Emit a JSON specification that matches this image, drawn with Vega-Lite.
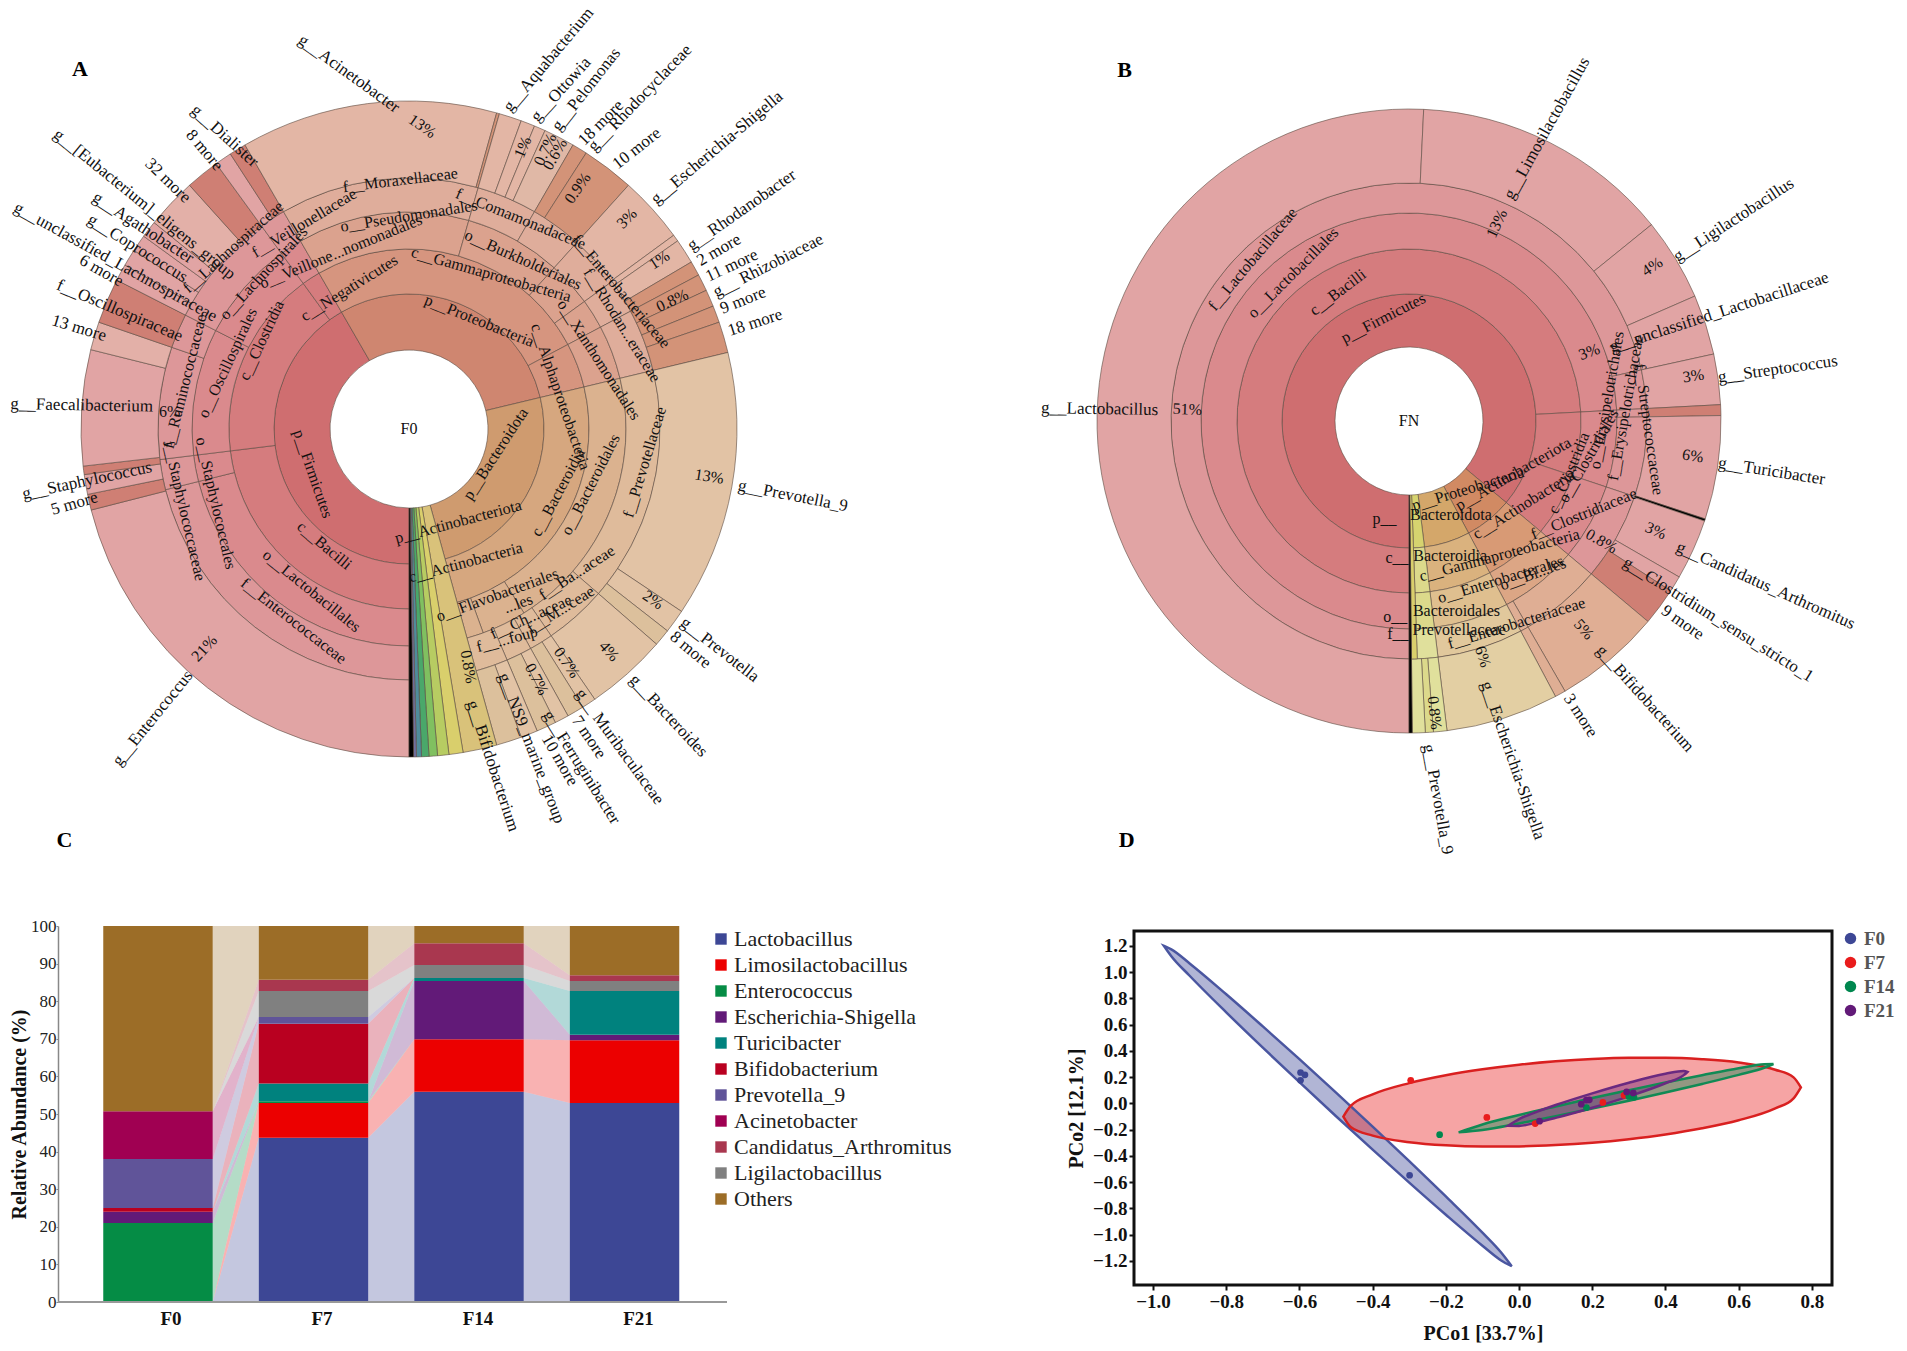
{"$schema":"https://vega.github.io/schema/vega-lite/v6.json","padding":0,"background":"white","bounds":"flush","spacing":1134,"resolve":{"scale":{"color":"independent","stroke":"independent"},"legend":{"color":"independent"}},"config":{"view":{"stroke":null},"font":"Liberation Serif","text":{"font":"Liberation Serif"},"axis":{"labelFont":"Liberation Serif","titleFont":"Liberation Serif","grid":false},"legend":{"labelFont":"Liberation Serif"}},
"datasets":{
"arcsA":[
{"t0":180,"t1":330,"r0":79,"r1":135,"k":"f0"},
{"t0":180,"t1":263,"r0":135,"r1":180,"k":"f1"},{"t0":263,"t1":324,"r0":135,"r1":180,"k":"f1"},{"t0":324,"t1":330,"r0":135,"r1":180,"k":"f1"},
{"t0":180,"t1":256,"r0":180,"r1":217,"k":"f2"},{"t0":256,"t1":263,"r0":180,"r1":217,"k":"f2"},{"t0":263,"t1":297,"r0":180,"r1":217,"k":"f2"},{"t0":297,"t1":324,"r0":180,"r1":217,"k":"f2"},{"t0":324,"t1":330,"r0":180,"r1":217,"k":"f2"},
{"t0":180,"t1":256,"r0":217,"r1":251,"k":"f3"},{"t0":256,"t1":263,"r0":217,"r1":251,"k":"f3"},{"t0":263,"t1":289,"r0":217,"r1":251,"k":"f3"},{"t0":289,"t1":297,"r0":217,"r1":251,"k":"f3"},{"t0":297,"t1":324,"r0":217,"r1":251,"k":"f3"},{"t0":324,"t1":330,"r0":217,"r1":251,"k":"f3"},
{"t0":180,"t1":255.7,"r0":251,"r1":328,"k":"f4"},{"t0":255.7,"t1":258.5,"r0":251,"r1":328,"k":"fd"},{"t0":258.5,"t1":262,"r0":251,"r1":328,"k":"f4"},{"t0":262,"t1":263.5,"r0":251,"r1":328,"k":"fd"},{"t0":263.5,"t1":284,"r0":251,"r1":328,"k":"f4"},{"t0":284,"t1":289,"r0":251,"r1":328,"k":"fh"},{"t0":289,"t1":297,"r0":251,"r1":328,"k":"fd"},{"t0":297,"t1":300,"r0":251,"r1":328,"k":"f4"},{"t0":300,"t1":303,"r0":251,"r1":328,"k":"f4"},{"t0":303,"t1":306,"r0":251,"r1":328,"k":"f4"},{"t0":306,"t1":309,"r0":251,"r1":328,"k":"f4"},{"t0":309,"t1":318,"r0":251,"r1":328,"k":"fh"},{"t0":318,"t1":324,"r0":251,"r1":328,"k":"fd"},{"t0":324,"t1":327,"r0":251,"r1":328,"k":"f4"},{"t0":327,"t1":330,"r0":251,"r1":328,"k":"fd"},
{"t0":330,"t1":436.5,"r0":79,"r1":135,"k":"p0"},
{"t0":330,"t1":422,"r0":135,"r1":180,"k":"p1"},{"t0":422,"t1":436.5,"r0":135,"r1":180,"k":"p1"},
{"t0":330,"t1":376,"r0":180,"r1":217,"k":"p2"},{"t0":376,"t1":402,"r0":180,"r1":217,"k":"p2"},{"t0":402,"t1":414,"r0":180,"r1":217,"k":"p2"},{"t0":414,"t1":422,"r0":180,"r1":217,"k":"p2"},{"t0":422,"t1":436.5,"r0":180,"r1":217,"k":"p2"},
{"t0":330,"t1":376,"r0":217,"r1":251,"k":"p3"},{"t0":376,"t1":390,"r0":217,"r1":251,"k":"p3"},{"t0":390,"t1":402,"r0":217,"r1":251,"k":"p3"},{"t0":402,"t1":414,"r0":217,"r1":251,"k":"p3"},{"t0":414,"t1":422,"r0":217,"r1":251,"k":"p3"},{"t0":422,"t1":436.5,"r0":217,"r1":251,"k":"p3"},
{"t0":330,"t1":375.5,"r0":251,"r1":328,"k":"p4"},{"t0":375.5,"t1":376,"r0":251,"r1":328,"k":"pd"},{"t0":376,"t1":380,"r0":251,"r1":328,"k":"p4"},{"t0":380,"t1":382.5,"r0":251,"r1":328,"k":"p4"},{"t0":382.5,"t1":384.5,"r0":251,"r1":328,"k":"p4"},{"t0":384.5,"t1":390,"r0":251,"r1":328,"k":"ph"},{"t0":390,"t1":392.7,"r0":251,"r1":328,"k":"pd"},{"t0":392.7,"t1":402,"r0":251,"r1":328,"k":"pd"},{"t0":402,"t1":413.8,"r0":251,"r1":328,"k":"p4"},{"t0":413.8,"t1":415,"r0":251,"r1":328,"k":"p4"},{"t0":415,"t1":419.4,"r0":251,"r1":328,"k":"p4"},{"t0":419.4,"t1":422,"r0":251,"r1":328,"k":"pd"},{"t0":422,"t1":425,"r0":251,"r1":328,"k":"pd"},{"t0":425,"t1":428,"r0":251,"r1":328,"k":"pd"},{"t0":428,"t1":431,"r0":251,"r1":328,"k":"pd"},{"t0":431,"t1":436.5,"r0":251,"r1":328,"k":"pd"},
{"t0":76.5,"t1":164.5,"r0":79,"r1":135,"k":"b0"},{"t0":76.5,"t1":164.5,"r0":135,"r1":180,"k":"b1"},
{"t0":76.5,"t1":148,"r0":180,"r1":217,"k":"b2"},{"t0":148,"t1":160,"r0":180,"r1":217,"k":"b2"},{"t0":160,"t1":164.5,"r0":180,"r1":217,"k":"b2"},
{"t0":76.5,"t1":131,"r0":217,"r1":251,"k":"b3"},{"t0":131,"t1":145.5,"r0":217,"r1":251,"k":"b3"},{"t0":145.5,"t1":151,"r0":217,"r1":251,"k":"b3"},{"t0":151,"t1":157,"r0":217,"r1":251,"k":"b3"},{"t0":157,"t1":164.5,"r0":217,"r1":251,"k":"b3"},
{"t0":76.5,"t1":123.8,"r0":251,"r1":328,"k":"b4"},{"t0":123.8,"t1":128,"r0":251,"r1":328,"k":"b4"},{"t0":128,"t1":131,"r0":251,"r1":328,"k":"bh"},{"t0":131,"t1":145.5,"r0":251,"r1":328,"k":"b4"},{"t0":145.5,"t1":148,"r0":251,"r1":328,"k":"b4"},{"t0":148,"t1":151,"r0":251,"r1":328,"k":"bh"},{"t0":151,"t1":153.5,"r0":251,"r1":328,"k":"b4"},{"t0":153.5,"t1":157,"r0":251,"r1":328,"k":"bh"},{"t0":157,"t1":160,"r0":251,"r1":328,"k":"b4"},{"t0":160,"t1":164.5,"r0":251,"r1":328,"k":"bh"},
{"t0":164.5,"t1":170.5,"r0":79,"r1":328,"k":"y1"},{"t0":170.5,"t1":173,"r0":79,"r1":328,"k":"y2"},{"t0":173,"t1":175,"r0":79,"r1":328,"k":"y3"},{"t0":175,"t1":176.5,"r0":79,"r1":328,"k":"y4"},{"t0":176.5,"t1":177.8,"r0":79,"r1":328,"k":"y5"},{"t0":177.8,"t1":178.7,"r0":79,"r1":328,"k":"y6"},{"t0":178.7,"t1":179.2,"r0":79,"r1":328,"k":"y7"},{"t0":179.2,"t1":180,"r0":79,"r1":328,"k":"kk"}
],
"rightA":[
{"s":"g__Aquabacterium","t":17,"r":334,"a":-50},{"s":"g__Ottowia","t":22,"r":334,"a":-48},{"s":"g__Pelomonas","t":26,"r":334,"a":-52},{"s":"18 more","t":31,"r":334,"a":-45},{"s":"g__ Rhodocyclaceae","t":33,"r":334,"a":-46},{"s":"10 more","t":38,"r":334,"a":-38},{"s":"g__Escherichia-Shigella","t":47,"r":334,"a":-40},{"s":"g__Rhodanobacter","t":57,"r":334,"a":-35},{"s":"2 more","t":60,"r":334,"a":-30},{"s":"11 more","t":63,"r":334,"a":-25},{"s":"g__ Rhizobiaceae","t":66,"r":334,"a":-27},{"s":"9 more","t":69,"r":334,"a":-22},{"s":"18 more","t":73,"r":334,"a":-18},{"s":"g__Prevotella_9","t":99.7,"r":334,"a":11},{"s":"g__Prevotella","t":125,"r":334,"a":38},{"s":"8 more","t":128,"r":334,"a":40},{"s":"g__Bacteroides","t":138,"r":334,"a":47},{"s":"g__ Muribaculaceae","t":147,"r":312,"a":54},{"s":"7 more","t":150,"r":333,"a":56},{"s":"g__Ferruginibacter","t":154,"r":315,"a":58},{"s":"10 more","t":156,"r":336,"a":60},{"s":"g__NS9_marine_group","t":159,"r":262,"a":69},{"s":"g__Bifidobacterium","t":167,"r":279,"a":72}],
"leftA":[
{"s":"g__Acinetobacter","t":358,"r":320,"a":36},{"s":"g__Dialister","t":330,"r":306,"a":42},{"s":"8 more","t":324,"r":322,"a":50},{"s":"32 more","t":316,"r":318,"a":44},{"s":"g__[Eubacterium]_eligens_group","t":311,"r":233,"a":39},{"s":"g__Agathobacter","t":308,"r":275,"a":33},{"s":"g__Coprococcus","t":304,"r":269,"a":32},{"s":"g__unclassified_Lachnospiraceae","t":300,"r":223,"a":29},{"s":"6 more","t":297,"r":322,"a":30},{"s":"f__Oscillospiraceae","t":292,"r":245,"a":23},{"s":"13 more","t":287,"r":317,"a":17},{"s":"g__Faecalibacterium","t":275,"r":257,"a":1},{"s":"g__Staphylococcus","t":261.6,"r":260,"a":-12},{"s":"5 more","t":257.7,"r":319,"a":-16},{"s":"g__Enterococcus","t":222,"r":328,"a":-51}],
"midA":[
{"s":"F0","t":0,"r":0,"a":0},{"s":"p__Proteobacteria","t":33,"r":129,"a":22},{"s":"c__Gammaproteobacteria","t":28,"r":175,"a":16},{"s":"o__Burkholderiales","t":34,"r":204,"a":24},{"s":"f__Comamonadaceae","t":28,"r":238,"a":22},{"s":"f__Moraxellaceae","t":358,"r":249,"a":-7},{"s":"o__Pseudomonadales","t":0,"r":213,"a":-9},{"s":"c__Negativicutes","t":337,"r":153,"a":-32},{"s":"o__Veillone...nomonadales","t":339,"r":190,"a":-22},{"s":"f__Veillonellaceae","t":333,"r":231,"a":-31},{"s":"o__Lachnospirales","t":317,"r":213,"a":-47},{"s":"f__Lachnospiraceae","t":316,"r":253,"a":-42},{"s":"c__Clostridia","t":301,"r":172,"a":-65},{"s":"o__Oscillospirales","t":290,"r":193,"a":-65},{"s":"f__Ruminococcaceae","t":282,"r":229,"a":-76},{"s":"p__Firmicutes","t":245,"r":106,"a":71},{"s":"c__Bacilli","t":216,"r":144,"a":40},{"s":"o__Lactobacillales","t":211,"r":189,"a":39},{"s":"f__Enterococcaceae","t":211,"r":224,"a":38},{"s":"o__Staphylococcales","t":249,"r":207,"a":77},{"s":"f__Staphylococcaceae","t":250,"r":239,"a":77},{"s":"p__Bacteroidota","t":106,"r":90,"a":-57},{"s":"c__Bacteroidia","t":113,"r":162,"a":-62},{"s":"o__Bacteroidales","t":107,"r":190,"a":-63},{"s":"f__Prevotellaceae","t":98,"r":238,"a":-73},{"s":"p__Actinobacteriota","t":152,"r":105,"a":-15},{"s":"c__Actinobacteria","t":157,"r":145,"a":-15},{"s":"o__Flavobacteriales","t":152,"r":188,"a":-20},{"s":"f__Ba...aceae","t":130.6,"r":221,"a":-33},{"s":"f__M...ceae","t":140,"r":236,"a":-32},{"s":"f__Ch...aceae","t":147,"r":224,"a":-24},{"s":"...les","t":148,"r":206,"a":-20},{"s":"f__...foup","t":155,"r":232,"a":-15},{"s":"c__Alphaproteobacteria","t":78,"r":155,"a":71},{"s":"o__Xanthomonadales","t":70,"r":202,"a":57},{"s":"f__Rhodan...eraceae","t":64,"r":237,"a":58},{"s":"f__Enterobacteriaceae","t":57,"r":253,"a":50},
{"s":"13%","t":2.5,"r":303,"a":35},{"s":"1%","t":22,"r":304,"a":-67},{"s":"0.7%","t":26,"r":311,"a":-65},{"s":"0.6%","t":28,"r":311,"a":-60},{"s":"0.9%","t":35,"r":294,"a":-55},{"s":"3%","t":46,"r":303,"a":-45},{"s":"1%","t":56,"r":302,"a":-33},{"s":"0.8%","t":64,"r":293,"a":-25},{"s":"13%","t":99,"r":304,"a":9},{"s":"2%","t":125,"r":298,"a":35},{"s":"4%","t":138,"r":299,"a":48},{"s":"0.7%","t":146,"r":282,"a":56},{"s":"0.7%","t":153,"r":281,"a":63},{"s":"21%","t":223,"r":300,"a":-47},{"s":"6%","t":274,"r":240,"a":0},{"s":"0.8%","t":166,"r":245,"a":80}],
"arcsB":[
{"t0":180,"t1":490,"r0":74,"r1":127,"k":"f0"},{"t0":130,"t1":152,"r0":74,"r1":127,"k":"a0"},{"t0":152,"t1":173,"r0":74,"r1":127,"k":"e0"},{"t0":173,"t1":178,"r0":74,"r1":127,"k":"v0"},
{"t0":180,"t1":447,"r0":127,"r1":172,"k":"f1"},{"t0":87,"t1":108.5,"r0":127,"r1":172,"k":"f1"},{"t0":108.5,"t1":130,"r0":127,"r1":172,"k":"f1"},{"t0":130,"t1":152,"r0":127,"r1":172,"k":"a1"},{"t0":152,"t1":173,"r0":127,"r1":172,"k":"e1"},{"t0":173,"t1":178,"r0":127,"r1":172,"k":"v1"},
{"t0":180,"t1":447,"r0":172,"r1":208,"k":"f2"},{"t0":87,"t1":108.5,"r0":172,"r1":208,"k":"f2"},{"t0":108.5,"t1":130,"r0":172,"r1":208,"k":"f2"},{"t0":130,"t1":152,"r0":172,"r1":208,"k":"a2"},{"t0":152,"t1":173,"r0":172,"r1":208,"k":"e2"},{"t0":173,"t1":178,"r0":172,"r1":208,"k":"v1"},
{"t0":180,"t1":437.6,"r0":208,"r1":238,"k":"f3"},{"t0":77.6,"t1":87,"r0":208,"r1":238,"k":"f3"},{"t0":87,"t1":89,"r0":208,"r1":238,"k":"f3"},{"t0":89,"t1":108.5,"r0":208,"r1":238,"k":"f3"},{"t0":108.5,"t1":130,"r0":208,"r1":238,"k":"f3"},{"t0":130,"t1":150,"r0":208,"r1":238,"k":"a3"},{"t0":150,"t1":152,"r0":208,"r1":238,"k":"a3"},{"t0":152,"t1":173,"r0":208,"r1":238,"k":"e3"},{"t0":173,"t1":178,"r0":208,"r1":238,"k":"v2"},
{"t0":180,"t1":362.7,"r0":238,"r1":312,"k":"f4"},{"t0":2.7,"t1":51,"r0":238,"r1":312,"k":"f4"},{"t0":51,"t1":66.4,"r0":238,"r1":312,"k":"f4"},{"t0":66.4,"t1":77.6,"r0":238,"r1":312,"k":"f4"},{"t0":77.6,"t1":87,"r0":238,"r1":312,"k":"f4"},{"t0":87,"t1":89,"r0":238,"r1":312,"k":"fd"},{"t0":89,"t1":108.3,"r0":238,"r1":312,"k":"f4"},{"t0":108.3,"t1":108.7,"r0":238,"r1":312,"k":"kk"},{"t0":108.7,"t1":120,"r0":238,"r1":312,"k":"f4"},{"t0":120,"t1":123,"r0":238,"r1":312,"k":"f4"},{"t0":123,"t1":130,"r0":238,"r1":312,"k":"fd"},{"t0":130,"t1":150,"r0":238,"r1":312,"k":"a4"},{"t0":150,"t1":152,"r0":238,"r1":312,"k":"a3"},{"t0":152,"t1":173,"r0":238,"r1":312,"k":"e4"},{"t0":173,"t1":175.5,"r0":238,"r1":312,"k":"v2"},{"t0":175.5,"t1":177,"r0":238,"r1":312,"k":"v1"},{"t0":177,"t1":179.4,"r0":238,"r1":312,"k":"v2"},
{"t0":178,"t1":179.4,"r0":74,"r1":238,"k":"y2"},{"t0":179.4,"t1":180,"r0":74,"r1":312,"k":"kk"}],
"rightB":[
{"s":"g__Limosilactobacillus","t":24,"r":244,"a":-61},{"s":"g__Ligilactobacillus","t":58.5,"r":312,"a":-33},{"s":"g__unclassified_Lactobacillaceae","t":70,"r":214,"a":-18},{"s":"g__Streptococcus","t":82,"r":312,"a":-8},{"s":"g__Turicibacter","t":97.7,"r":312,"a":9},{"s":"g__Candidatus_Arthromitus","t":115,"r":296,"a":24},{"s":"g__Clostridium_sensu_stricto_1","t":123,"r":257,"a":32},{"s":"9 more","t":126.5,"r":316,"a":35},{"s":"g__Bifidobacterium","t":140,"r":296,"a":48},{"s":"3 more","t":150,"r":317,"a":57},{"s":"g__Escherichia-Shigella","t":163.6,"r":272,"a":71},{"s":"g__Prevotella_9","t":176.6,"r":324,"a":80}],
"leftB":[{"s":"g__Lactobacillus","t":272.5,"r":251,"a":1}],
"midB":[
{"s":"FN","t":0,"r":0,"a":0},{"s":"p__Firmicutes","t":346,"r":106,"a":-27},{"s":"c__Bacilli","t":331,"r":147,"a":-37},{"s":"o__Lactobacillales","t":322,"r":188,"a":-45},{"s":"f__Lactobacillaceae","t":316,"r":225,"a":-50},{"s":"o__Erysipelotrichales","t":84,"r":199,"a":-80},{"s":"f__Erysipelotrichaceae","t":86.5,"r":217,"a":-80},{"s":"f__Streptococcaceae","t":92,"r":240,"a":82},{"s":"c__Clostridia","t":108,"r":168,"a":-68},{"s":"o__Clostridiales","t":101,"r":183,"a":-60},{"s":"f__Clostridiaceae","t":118,"r":198,"a":-22},{"s":"p__Actinobacteriota","t":117,"r":117,"a":-30},{"s":"c__Actinobacteria","t":126,"r":142,"a":-32},{"s":"p__Proteobacteria","t":139,"r":90,"a":-17},{"s":"c__Gammaproteobacteria","t":146,"r":162,"a":-15},{"s":"o__Enterobacterales","t":150,"r":183,"a":-17},{"s":"f__Enterobacteriaceae","t":152,"r":229,"a":-17},{"s":"o__Bi...les","t":141,"r":197,"a":-20},{"s":"Bacteroidota","t":156,"r":103,"a":0},{"s":"p__","t":194,"r":101,"a":0},{"s":"Bacteroidia","t":163,"r":141,"a":0},{"s":"c__","t":185,"r":138,"a":0},{"s":"Bacteroidales","t":166,"r":196,"a":0},{"s":"o__","t":184,"r":196,"a":0},{"s":"Prevotellaceae","t":166.5,"r":215,"a":0},{"s":"f__","t":183,"r":213,"a":0},
{"s":"51%","t":273,"r":222,"a":2},{"s":"13%","t":24,"r":216,"a":-65},{"s":"4%","t":57.6,"r":288,"a":-33},{"s":"3%","t":69,"r":193,"a":-20},{"s":"3%","t":81,"r":288,"a":-8},{"s":"6%","t":97,"r":286,"a":9},{"s":"3%","t":114,"r":270,"a":24},{"s":"0.8%","t":122,"r":227,"a":30},{"s":"5%","t":140,"r":272,"a":48},{"s":"6%","t":162.6,"r":247,"a":72},{"s":"0.8%","t":175,"r":293,"a":84}],
"bars":[
{"x0":-0.352,"x1":0.352,"taxon":"Enterococcus","lo":0,"hi":21},{"x0":-0.352,"x1":0.352,"taxon":"Escherichia-Shigella","lo":21,"hi":24},{"x0":-0.352,"x1":0.352,"taxon":"Bifidobacterium","lo":24,"hi":25},{"x0":-0.352,"x1":0.352,"taxon":"Prevotella_9","lo":25,"hi":38},{"x0":-0.352,"x1":0.352,"taxon":"Acinetobacter","lo":38,"hi":50.7},{"x0":-0.352,"x1":0.352,"taxon":"Others","lo":50.7,"hi":100},
{"x0":0.648,"x1":1.352,"taxon":"Lactobacillus","lo":0,"hi":43.7},{"x0":0.648,"x1":1.352,"taxon":"Limosilactobacillus","lo":43.7,"hi":52.9},{"x0":0.648,"x1":1.352,"taxon":"Enterococcus","lo":52.9,"hi":53.4},{"x0":0.648,"x1":1.352,"taxon":"Turicibacter","lo":53.4,"hi":58.1},{"x0":0.648,"x1":1.352,"taxon":"Bifidobacterium","lo":58.1,"hi":74},{"x0":0.648,"x1":1.352,"taxon":"Prevotella_9","lo":74,"hi":75.8},{"x0":0.648,"x1":1.352,"taxon":"Ligilactobacillus","lo":75.8,"hi":82.7},{"x0":0.648,"x1":1.352,"taxon":"Candidatus_Arthromitus","lo":82.7,"hi":85.7},{"x0":0.648,"x1":1.352,"taxon":"Others","lo":85.7,"hi":100},
{"x0":1.648,"x1":2.352,"taxon":"Lactobacillus","lo":0,"hi":55.9},{"x0":1.648,"x1":2.352,"taxon":"Limosilactobacillus","lo":55.9,"hi":69.9},{"x0":1.648,"x1":2.352,"taxon":"Escherichia-Shigella","lo":69.9,"hi":85.4},{"x0":1.648,"x1":2.352,"taxon":"Turicibacter","lo":85.4,"hi":86.2},{"x0":1.648,"x1":2.352,"taxon":"Ligilactobacillus","lo":86.2,"hi":89.6},{"x0":1.648,"x1":2.352,"taxon":"Candidatus_Arthromitus","lo":89.6,"hi":95.4},{"x0":1.648,"x1":2.352,"taxon":"Others","lo":95.4,"hi":100},
{"x0":2.648,"x1":3.352,"taxon":"Lactobacillus","lo":0,"hi":52.9},{"x0":2.648,"x1":3.352,"taxon":"Limosilactobacillus","lo":52.9,"hi":69.6},{"x0":2.648,"x1":3.352,"taxon":"Escherichia-Shigella","lo":69.6,"hi":71.1},{"x0":2.648,"x1":3.352,"taxon":"Turicibacter","lo":71.1,"hi":82.7},{"x0":2.648,"x1":3.352,"taxon":"Ligilactobacillus","lo":82.7,"hi":85.4},{"x0":2.648,"x1":3.352,"taxon":"Candidatus_Arthromitus","lo":85.4,"hi":86.9},{"x0":2.648,"x1":3.352,"taxon":"Others","lo":86.9,"hi":100}],
"flows":[
{"l":"a","x":0.352,"taxon":"Lactobacillus","lo":0,"hi":0},{"l":"a","x":0.648,"taxon":"Lactobacillus","lo":0,"hi":43.7},
{"l":"a","x":0.352,"taxon":"Limosilactobacillus","lo":0,"hi":0},{"l":"a","x":0.648,"taxon":"Limosilactobacillus","lo":43.7,"hi":52.9},
{"l":"a","x":0.352,"taxon":"Enterococcus","lo":0,"hi":21},{"l":"a","x":0.648,"taxon":"Enterococcus","lo":52.9,"hi":53.4},
{"l":"a","x":0.352,"taxon":"Escherichia-Shigella","lo":21,"hi":24},{"l":"a","x":0.648,"taxon":"Escherichia-Shigella","lo":53.4,"hi":53.4},
{"l":"a","x":0.352,"taxon":"Turicibacter","lo":24,"hi":24},{"l":"a","x":0.648,"taxon":"Turicibacter","lo":53.4,"hi":58.1},
{"l":"a","x":0.352,"taxon":"Bifidobacterium","lo":24,"hi":25},{"l":"a","x":0.648,"taxon":"Bifidobacterium","lo":58.1,"hi":74},
{"l":"a","x":0.352,"taxon":"Prevotella_9","lo":25,"hi":38},{"l":"a","x":0.648,"taxon":"Prevotella_9","lo":74,"hi":75.8},
{"l":"a","x":0.352,"taxon":"Acinetobacter","lo":38,"hi":50.7},{"l":"a","x":0.648,"taxon":"Acinetobacter","lo":75.8,"hi":75.8},
{"l":"a","x":0.352,"taxon":"Ligilactobacillus","lo":50.7,"hi":50.7},{"l":"a","x":0.648,"taxon":"Ligilactobacillus","lo":75.8,"hi":82.7},
{"l":"a","x":0.352,"taxon":"Candidatus_Arthromitus","lo":50.7,"hi":50.7},{"l":"a","x":0.648,"taxon":"Candidatus_Arthromitus","lo":82.7,"hi":85.7},
{"l":"a","x":0.352,"taxon":"Others","lo":50.7,"hi":100},{"l":"a","x":0.648,"taxon":"Others","lo":85.7,"hi":100},
{"l":"b","x":1.352,"taxon":"Lactobacillus","lo":0,"hi":43.7},{"l":"b","x":1.648,"taxon":"Lactobacillus","lo":0,"hi":55.9},
{"l":"b","x":1.352,"taxon":"Limosilactobacillus","lo":43.7,"hi":52.9},{"l":"b","x":1.648,"taxon":"Limosilactobacillus","lo":55.9,"hi":69.9},
{"l":"b","x":1.352,"taxon":"Enterococcus","lo":52.9,"hi":53.4},{"l":"b","x":1.648,"taxon":"Enterococcus","lo":69.9,"hi":69.9},
{"l":"b","x":1.352,"taxon":"Escherichia-Shigella","lo":53.4,"hi":53.4},{"l":"b","x":1.648,"taxon":"Escherichia-Shigella","lo":69.9,"hi":85.4},
{"l":"b","x":1.352,"taxon":"Turicibacter","lo":53.4,"hi":58.1},{"l":"b","x":1.648,"taxon":"Turicibacter","lo":85.4,"hi":86.2},
{"l":"b","x":1.352,"taxon":"Bifidobacterium","lo":58.1,"hi":74},{"l":"b","x":1.648,"taxon":"Bifidobacterium","lo":86.2,"hi":86.2},
{"l":"b","x":1.352,"taxon":"Prevotella_9","lo":74,"hi":75.8},{"l":"b","x":1.648,"taxon":"Prevotella_9","lo":86.2,"hi":86.2},
{"l":"b","x":1.352,"taxon":"Ligilactobacillus","lo":75.8,"hi":82.7},{"l":"b","x":1.648,"taxon":"Ligilactobacillus","lo":86.2,"hi":89.6},
{"l":"b","x":1.352,"taxon":"Candidatus_Arthromitus","lo":82.7,"hi":85.7},{"l":"b","x":1.648,"taxon":"Candidatus_Arthromitus","lo":89.6,"hi":95.4},
{"l":"b","x":1.352,"taxon":"Others","lo":85.7,"hi":100},{"l":"b","x":1.648,"taxon":"Others","lo":95.4,"hi":100},
{"l":"c","x":2.352,"taxon":"Lactobacillus","lo":0,"hi":55.9},{"l":"c","x":2.648,"taxon":"Lactobacillus","lo":0,"hi":52.9},
{"l":"c","x":2.352,"taxon":"Limosilactobacillus","lo":55.9,"hi":69.9},{"l":"c","x":2.648,"taxon":"Limosilactobacillus","lo":52.9,"hi":69.6},
{"l":"c","x":2.352,"taxon":"Escherichia-Shigella","lo":69.9,"hi":85.4},{"l":"c","x":2.648,"taxon":"Escherichia-Shigella","lo":69.6,"hi":71.1},
{"l":"c","x":2.352,"taxon":"Turicibacter","lo":85.4,"hi":86.2},{"l":"c","x":2.648,"taxon":"Turicibacter","lo":71.1,"hi":82.7},
{"l":"c","x":2.352,"taxon":"Ligilactobacillus","lo":86.2,"hi":89.6},{"l":"c","x":2.648,"taxon":"Ligilactobacillus","lo":82.7,"hi":85.4},
{"l":"c","x":2.352,"taxon":"Candidatus_Arthromitus","lo":89.6,"hi":95.4},{"l":"c","x":2.648,"taxon":"Candidatus_Arthromitus","lo":85.4,"hi":86.9},
{"l":"c","x":2.352,"taxon":"Others","lo":95.4,"hi":100},{"l":"c","x":2.648,"taxon":"Others","lo":86.9,"hi":100}],
"ell":[
{"g":"F0","x":-0.97,"u":1.2,"w":1.2},{"g":"F0","x":-0.95,"u":1.174,"w":1.122},{"g":"F0","x":-0.9,"u":1.067,"w":0.973},{"g":"F0","x":-0.8,"u":0.832,"w":0.694},{"g":"F0","x":-0.7,"u":0.587,"w":0.425},{"g":"F0","x":-0.6,"u":0.338,"w":0.162},{"g":"F0","x":-0.5,"u":0.083,"w":-0.097},{"g":"F0","x":-0.4,"u":-0.176,"w":-0.352},{"g":"F0","x":-0.3,"u":-0.439,"w":-0.603},{"g":"F0","x":-0.2,"u":-0.708,"w":-0.848},{"g":"F0","x":-0.1,"u":-0.984,"w":-1.084},{"g":"F0","x":-0.05,"u":-1.132,"w":-1.194},{"g":"F0","x":-0.02,"u":-1.24,"w":-1.24},
{"g":"F7","x":-0.48,"u":-0.1,"w":-0.1},{"g":"F7","x":-0.46,"u":-0.019,"w":-0.179},{"g":"F7","x":-0.4,"u":0.069,"w":-0.245},{"g":"F7","x":-0.3,"u":0.155,"w":-0.295},{"g":"F7","x":-0.2,"u":0.215,"w":-0.319},{"g":"F7","x":-0.1,"u":0.26,"w":-0.328},{"g":"F7","x":0,"u":0.295,"w":-0.327},{"g":"F7","x":0.1,"u":0.321,"w":-0.317},{"g":"F7","x":0.2,"u":0.339,"w":-0.299},{"g":"F7","x":0.3,"u":0.348,"w":-0.272},{"g":"F7","x":0.4,"u":0.348,"w":-0.236},{"g":"F7","x":0.5,"u":0.337,"w":-0.189},{"g":"F7","x":0.6,"u":0.312,"w":-0.128},{"g":"F7","x":0.7,"u":0.257,"w":-0.037},{"g":"F7","x":0.75,"u":0.199,"w":0.039},{"g":"F7","x":0.77,"u":0.123,"w":0.123},
{"g":"F14","x":-0.165,"u":-0.22,"w":-0.22},{"g":"F14","x":-0.1,"u":-0.16,"w":-0.202},{"g":"F14","x":0,"u":-0.088,"w":-0.152},{"g":"F14","x":0.1,"u":-0.023,"w":-0.097},{"g":"F14","x":0.2,"u":0.041,"w":-0.039},{"g":"F14","x":0.3,"u":0.101,"w":0.021},{"g":"F14","x":0.4,"u":0.16,"w":0.084},{"g":"F14","x":0.5,"u":0.215,"w":0.149},{"g":"F14","x":0.6,"u":0.268,"w":0.218},{"g":"F14","x":0.67,"u":0.298,"w":0.272},{"g":"F14","x":0.695,"u":0.3,"w":0.3},
{"g":"F21","x":-0.03,"u":-0.17,"w":-0.17},{"g":"F21","x":0,"u":-0.119,"w":-0.171},{"g":"F21","x":0.05,"u":-0.062,"w":-0.144},{"g":"F21","x":0.1,"u":-0.012,"w":-0.11},{"g":"F21","x":0.2,"u":0.077,"w":-0.033},{"g":"F21","x":0.3,"u":0.158,"w":0.054},{"g":"F21","x":0.4,"u":0.226,"w":0.154},{"g":"F21","x":0.45,"u":0.248,"w":0.216},{"g":"F21","x":0.46,"u":0.24,"w":0.24}],
"pts":[
{"g":"F0","x":-0.597,"y":0.236},{"g":"F0","x":-0.585,"y":0.218},{"g":"F0","x":-0.597,"y":0.176},{"g":"F0","x":-0.299,"y":-0.547},
{"g":"F7","x":-0.296,"y":0.176},{"g":"F7","x":-0.088,"y":-0.106},{"g":"F7","x":0.044,"y":-0.153},{"g":"F7","x":0.229,"y":0.008},{"g":"F7","x":0.287,"y":0.062},
{"g":"F14","x":-0.217,"y":-0.238},{"g":"F14","x":0.184,"y":-0.031},{"g":"F14","x":0.3,"y":0.054},{"g":"F14","x":0.314,"y":0.047},
{"g":"F21","x":0.056,"y":-0.135},{"g":"F21","x":0.17,"y":-0.005},{"g":"F21","x":0.192,"y":0.028},{"g":"F21","x":0.184,"y":0.026},{"g":"F21","x":0.294,"y":0.088},{"g":"F21","x":0.312,"y":0.08}]
},
"hconcat":[
{"resolve":{"scale":{"color":"independent"},"legend":{"color":"independent"}},"vconcat":[
{"width":818,"height":858,"layer":[
{"data":{"name":"arcsA"},"mark":{"type":"arc","stroke":"#5a4a40","strokeWidth":0.6},"encoding":{"theta":{"field":"t0","type":"quantitative","stack":null,"scale":{"domain":[0,720],"range":[0,12.56637]}},"theta2":{"field":"t1"},"radius":{"field":"r0","type":"quantitative","scale":{"type":"linear","domain":[0,600],"range":[0,600]}},"radius2":{"field":"r1"},"color":{"field":"k","type":"nominal","legend":null,"scale":{"domain":["f0","f1","f2","f3","f4","fh","fd","p0","p1","p2","p3","p4","ph","pd","b0","b1","b2","b3","b4","bh","y1","y2","y3","y4","y5","y6","y7","kk"],"range":["#cf6e70","#d57c7e","#da8a8d","#dd9799","#e1a4a4","#e3b0a8","#cf7f74","#cf8670","#d6957f","#dba28e","#dfad9b","#e3b6a5","#e0b8a6","#d39378","#cf9b6f","#d6a77f","#dbb28f","#dfbb9b","#e2c3a5","#dcc09c","#d9c27a","#d9cf6c","#b7cc62","#80c060","#4aa86a","#4f8c9b","#7070a0","#000000"]}}}},
{"data":{"name":"midA"},"mark":{"type":"text","fontSize":16,"align":"center","baseline":"middle","font":"Liberation Serif","fill":"#111"},"encoding":{"theta":{"field":"t","type":"quantitative","stack":null},"radius":{"field":"r","type":"quantitative"},"text":{"field":"s"},"angle":{"field":"a","type":"quantitative","scale":null}}},
{"data":{"name":"rightA"},"mark":{"type":"text","fontSize":17,"align":"left","baseline":"middle","font":"Liberation Serif","fill":"#111"},"encoding":{"theta":{"field":"t","type":"quantitative","stack":null},"radius":{"field":"r","type":"quantitative"},"text":{"field":"s"},"angle":{"field":"a","type":"quantitative","scale":null}}},
{"data":{"name":"leftA"},"mark":{"type":"text","fontSize":17,"align":"right","baseline":"middle","font":"Liberation Serif","fill":"#111"},"encoding":{"theta":{"field":"t","type":"quantitative","stack":null},"radius":{"field":"r","type":"quantitative"},"text":{"field":"s"},"angle":{"field":"a","type":"quantitative","scale":null}}},
{"data":{"values":[{"s":"A","t":317.6,"r":488},{"s":"C","t":220,"r":536}]},"mark":{"type":"text","fontSize":22,"fontWeight":"bold","align":"center","baseline":"middle","font":"Liberation Serif","fill":"#000"},"encoding":{"theta":{"field":"t","type":"quantitative","stack":null},"radius":{"field":"r","type":"quantitative"},"text":{"field":"s"}}}
]},
{"width":727,"height":376,"layer":[
{"data":{"name":"flows"},"mark":{"type":"area","opacity":0.3,"interpolate":"linear"},"encoding":{"x":{"field":"x","type":"quantitative","scale":{"domain":[-1.016,3.659],"nice":false,"zero":false},"axis":null},"y":{"field":"hi","type":"quantitative","stack":null,"scale":{"domain":[0,100],"nice":false},"axis":{"offset":-58,"values":[0,10,20,30,40,50,60,70,80,90,100],"tickCount":11,"labelOverlap":false,"title":"Relative Abundance (%)","titleFontSize":20,"titleFontWeight":"bold","titlePadding":1,"labelFontSize":17,"labelColor":"#222","titleColor":"#111","domainColor":"#888","domainWidth":1.5,"tickColor":"#888","tickSize":2,"labelPadding":0}},"y2":{"field":"lo"},"detail":{"field":"l"},"color":{"field":"taxon","type":"nominal","scale":{"domain":["Lactobacillus","Limosilactobacillus","Enterococcus","Escherichia-Shigella","Turicibacter","Bifidobacterium","Prevotella_9","Acinetobacter","Candidatus_Arthromitus","Ligilactobacillus","Others"],"range":["#3d4795","#ec0000","#058c45","#621a78","#00827e","#b90020","#605499","#a00052","#a9374f","#808080","#9c6d27"]}}}},
{"data":{"name":"bars"},"mark":{"type":"rect"},"encoding":{"x":{"field":"x0","type":"quantitative"},"x2":{"field":"x1"},"y":{"field":"lo","type":"quantitative"},"y2":{"field":"hi"},"color":{"field":"taxon","type":"nominal","legend":{"orient":"none","legendX":710,"legendY":2,"title":null,"symbolType":"square","symbolSize":130,"labelFontSize":22,"labelLimit":300,"labelColor":"#222","rowPadding":4,"labelOffset":2,"symbolStrokeWidth":0,"encode":{"symbols":{"update":{"opacity":{"value":1},"fillOpacity":{"value":1}}}}}}}},
{"data":{"values":[{"x":-0.643,"y":0},{"x":3.659,"y":0}]},"mark":{"type":"line","stroke":"#999","strokeWidth":2},"encoding":{"x":{"field":"x","type":"quantitative"},"y":{"field":"y","type":"quantitative"}}},
{"data":{"values":[{"s":"F0","x":0.084,"y":-4.4},{"s":"F7","x":1.055,"y":-4.4},{"s":"F14","x":2.058,"y":-4.4},{"s":"F21","x":3.09,"y":-4.4}]},"mark":{"type":"text","fontSize":19,"fontWeight":"bold","font":"Liberation Serif","fill":"#111","clip":false},"encoding":{"x":{"field":"x","type":"quantitative"},"y":{"field":"y","type":"quantitative"},"text":{"field":"s"}}}
]}
],"spacing":68,"bounds":"flush"},
{"resolve":{"scale":{"color":"independent","stroke":"independent"},"legend":{"color":"independent"}},"vconcat":[
{"width":550,"height":842,"layer":[
{"data":{"name":"arcsB"},"mark":{"type":"arc","stroke":"#5a4a40","strokeWidth":0.6},"encoding":{"theta":{"field":"t0","type":"quantitative","stack":null,"scale":{"domain":[0,720],"range":[0,12.56637]}},"theta2":{"field":"t1"},"radius":{"field":"r0","type":"quantitative","scale":{"type":"linear","domain":[0,600],"range":[0,600]}},"radius2":{"field":"r1"},"color":{"field":"k","type":"nominal","legend":null,"scale":{"domain":["f0","f1","f2","f3","f4","fd","a0","a1","a2","a3","a4","e0","e1","e2","e3","e4","v0","v1","v2","y2","kk"],"range":["#cf6e70","#d57c7e","#da8a8d","#dd9799","#e1a4a4","#cf7f74","#d18a63","#d89a75","#dca685","#dfae94","#e0ae94","#d4a76a","#dab27e","#dfbf8f","#e1c89c","#e3cfa3","#d6d36f","#dcd98b","#e0e09c","#d9cf6c","#000000"]}}}},
{"data":{"name":"midB"},"mark":{"type":"text","fontSize":16,"align":"center","baseline":"middle","font":"Liberation Serif","fill":"#111"},"encoding":{"theta":{"field":"t","type":"quantitative","stack":null},"radius":{"field":"r","type":"quantitative"},"text":{"field":"s"},"angle":{"field":"a","type":"quantitative","scale":null}}},
{"data":{"name":"rightB"},"mark":{"type":"text","fontSize":17,"align":"left","baseline":"middle","font":"Liberation Serif","fill":"#111"},"encoding":{"theta":{"field":"t","type":"quantitative","stack":null},"radius":{"field":"r","type":"quantitative"},"text":{"field":"s"},"angle":{"field":"a","type":"quantitative","scale":null}}},
{"data":{"name":"leftB"},"mark":{"type":"text","fontSize":17,"align":"right","baseline":"middle","font":"Liberation Serif","fill":"#111"},"encoding":{"theta":{"field":"t","type":"quantitative","stack":null},"radius":{"field":"r","type":"quantitative"},"text":{"field":"s"},"angle":{"field":"a","type":"quantitative","scale":null}}},
{"data":{"values":[{"s":"B","t":321,"r":452},{"s":"D","t":214,"r":505}]},"mark":{"type":"text","fontSize":22,"fontWeight":"bold","align":"center","baseline":"middle","font":"Liberation Serif","fill":"#000"},"encoding":{"theta":{"field":"t","type":"quantitative","stack":null},"radius":{"field":"r","type":"quantitative"},"text":{"field":"s"}}}
]},
{"width":698,"height":354,"view":{"stroke":"#111","strokeWidth":3},"layer":[
{"data":{"name":"ell"},"mark":{"type":"area","opacity":0.4,"interpolate":"monotone"},"encoding":{"x":{"field":"x","type":"quantitative","scale":{"domain":[-1.052,0.855],"nice":false,"zero":false},"axis":{"values":[-1,-0.8,-0.6,-0.4,-0.2,0,0.2,0.4,0.6,0.8],"labelOverlap":false,"format":".1f","title":"PCo1 [33.7%]","titleFontSize":20,"titleFontWeight":"bold","titlePadding":12,"labelFontSize":19,"labelFontWeight":"bold","labelColor":"#111","titleColor":"#111","domain":false,"tickColor":"#111","tickWidth":2,"tickSize":5,"labelFlush":false}},"y":{"field":"u","type":"quantitative","stack":null,"scale":{"domain":[-1.383,1.314],"nice":false,"zero":false},"axis":{"values":[-1.2,-1,-0.8,-0.6,-0.4,-0.2,0,0.2,0.4,0.6,0.8,1,1.2],"tickCount":13,"labelOverlap":false,"format":".1f","title":"PCo2 [12.1%]","titleFontSize":20,"titleFontWeight":"bold","titlePadding":6,"labelFontSize":19,"labelFontWeight":"bold","labelColor":"#111","titleColor":"#111","domain":false,"tickColor":"#111","tickWidth":2,"tickSize":5}},"y2":{"field":"w"},"color":{"field":"g","type":"nominal","legend":null,"scale":{"domain":["F0","F7","F14","F21"],"range":["#3d4795","#e91c1c","#00874f","#621a78"]}}}},
{"data":{"name":"ell"},"mark":{"type":"area","fillOpacity":0,"strokeWidth":2.5,"interpolate":"monotone"},"encoding":{"x":{"field":"x","type":"quantitative"},"y":{"field":"u","type":"quantitative","stack":null},"y2":{"field":"w"},"stroke":{"field":"g","type":"nominal","legend":null,"scale":{"domain":["F0","F7","F14","F21"],"range":["#4a56a0","#d92020","#128a55","#6a2a80"]}}}},
{"data":{"name":"pts"},"mark":{"type":"circle","size":45,"opacity":1},"encoding":{"x":{"field":"x","type":"quantitative"},"y":{"field":"y","type":"quantitative"},"fill":{"field":"g","type":"nominal","scale":{"domain":["F0","F7","F14","F21"],"range":["#3d4795","#e91c1c","#00874f","#621a78"]},"legend":{"orient":"none","legendX":1841,"legendY":929,"title":null,"symbolType":"circle","symbolSize":130,"labelFontSize":19,"labelFontWeight":"bold","labelColor":"#555","rowPadding":4}}}}
]}
],"spacing":89,"bounds":"flush"}
]}
